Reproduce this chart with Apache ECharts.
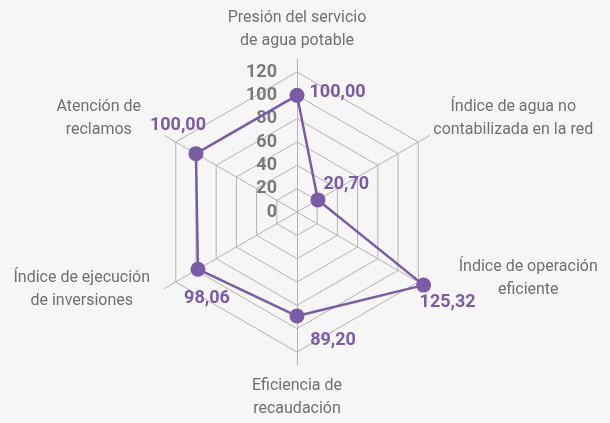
<!DOCTYPE html>
<html>
<head>
<meta charset="utf-8">
<script src="https://cdn.jsdelivr.net/npm/echarts@6/dist/echarts.min.js"></script>
<style>
html, body { margin: 0; padding: 0; background: #f6f6f6; }
#chart { width: 610px; height: 423px; }
</style>
</head>
<body>
<div id="chart"></div>
<script>
// indicadores en orden antihorario desde arriba
var indicadores = [
    'Presión del servicio\nde agua potable',
    'Atención de\nreclamos',
    'Índice de ejecución\nde inversiones',
    'Eficiencia de\nrecaudación',
    'Índice de operación\neficiente',
    'Índice de agua no\ncontabilizada en la red'
];
var valores = [100.00, 100.00, 98.06, 89.20, 125.32, 20.70];
var escalaMax = 120;

var FONT = '"Liberation Sans Narrow", "Roboto", sans-serif';
var MORADO = '#7a5ba6';
var GRIS = '#707070';
var LINEA = '#b4b4b4';

// ancho de bloque para centrar las lineas de cada nombre
var anchos = [170, 128, 162, 120, 194, 164];
// espacio extra arriba / abajo del nombre (para moverlo)
var espArriba = [0, 0, 0, 7, 0, 0];
var espAbajo = [5, 32, 0, 0, 22, 32];
// posicion de cada etiqueta de valor
var posEtiquetas = [
    { position: 'right', offset: [0, -3] },
    { position: 'top', offset: [-18, -7] },
    { position: 'bottom', offset: [9, 8] },
    { position: 'bottom', offset: [36, 3] },
    { position: 'bottom', offset: [24, -4] },
    { position: 'right', offset: [-7, -15] }
];

var rich = {};
anchos.forEach(function (w, i) {
    rich['n' + i] = {
        width: w, align: 'center', color: GRIS, fontSize: 16,
        lineHeight: 23, fontFamily: FONT
    };
    rich['a' + i] = { width: w, fontSize: 2, lineHeight: espArriba[i] };
    rich['b' + i] = { width: w, fontSize: 2, lineHeight: espAbajo[i] };
});

var myChart = echarts.init(document.getElementById('chart'));

var seriesEtiquetas = valores.map(function (v, i) {
    return {
        type: 'radar',
        radarIndex: 0,
        silent: true,
        symbol: 'circle',
        symbolSize: 15,
        itemStyle: { color: 'rgba(0,0,0,0)' },
        lineStyle: { opacity: 0, width: 0 },
        z: 5,
        data: [{
            value: valores.map(function (x, j) { return j === i ? x : null; }),
            label: {
                show: true,
                position: posEtiquetas[i].position,
                offset: posEtiquetas[i].offset,
                color: MORADO,
                fontSize: 18,
                fontWeight: 'bold',
                fontFamily: FONT,
                formatter: function (p) {
                    if (p.value == null || isNaN(p.value)) return '';
                    return Number(p.value).toFixed(2).replace('.', ',');
                }
            }
        }]
    };
});

var option = {
    backgroundColor: '#f6f6f6',
    animation: false,
    radar: [
        {
            center: [297, 212],
            radius: 140,
            startAngle: 90,
            splitNumber: 6,
            shape: 'polygon',
            indicator: indicadores.map(function (n, i) {
                var ind = { name: n, min: 0, max: escalaMax };
                if (i > 0) ind.axisLabel = { show: false };
                return ind;
            }),
            nameGap: 15,
            axisName: {
                color: GRIS,
                fontSize: 16,
                fontFamily: FONT,
                formatter: function (name) {
                    var i = indicadores.indexOf(name);
                    var lineas = name.split('\n').map(function (l) {
                        return '{n' + i + '|' + l + '}';
                    });
                    if (espArriba[i]) lineas.unshift('{a' + i + '| }');
                    if (espAbajo[i]) lineas.push('{b' + i + '| }');
                    return lineas.join('\n');
                },
                rich: rich
            },
            splitLine: { lineStyle: { color: LINEA, width: 1 } },
            splitArea: { show: false },
            axisLine: { show: false },
            axisTick: { show: false },
            axisLabel: {
                show: true,
                color: '#7a7a7a',
                fontSize: 18,
                fontWeight: 'bold',
                fontFamily: FONT,
                margin: 20
            }
        },
        {
            // solo los ejes, un poco mas largos que el anillo exterior
            center: [297, 212],
            radius: 153,
            startAngle: 90,
            splitNumber: 1,
            shape: 'polygon',
            indicator: indicadores.map(function () { return { name: '', max: 1 }; }),
            axisName: { show: false },
            splitLine: { show: false },
            splitArea: { show: false },
            axisLine: { lineStyle: { color: LINEA, width: 1 } },
            axisTick: { show: false },
            axisLabel: { show: false }
        }
    ],
    series: [
        {
            type: 'radar',
            radarIndex: 0,
            symbol: 'circle',
            symbolSize: 15,
            z: 4,
            lineStyle: { color: MORADO, width: 2.5 },
            itemStyle: { color: MORADO },
            label: { show: false },
            data: [{ value: valores, name: 'Indicadores' }]
        }
    ].concat(seriesEtiquetas)
};

myChart.setOption(option);
</script>
</body>
</html>
